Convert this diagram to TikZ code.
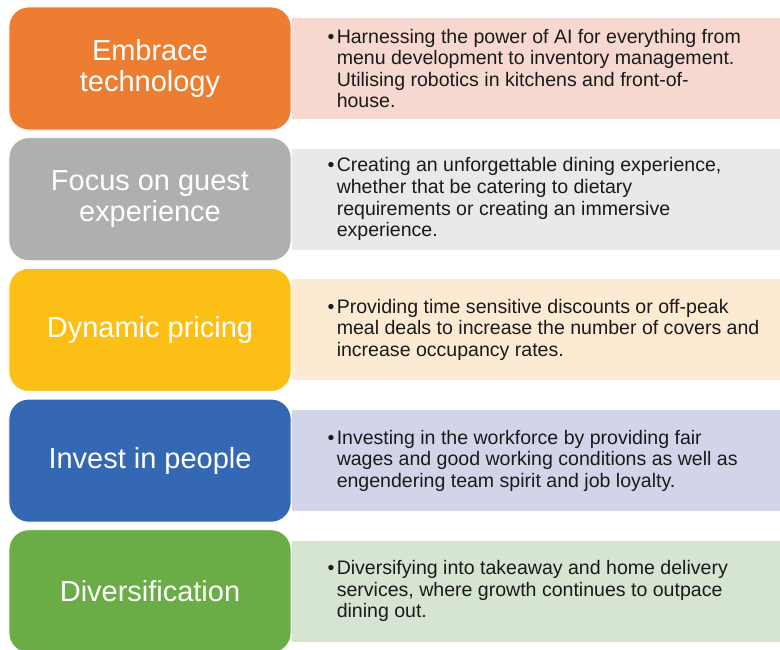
\documentclass[tikz,border=0pt]{standalone}
\usepackage{fontspec}
\setmainfont{Liberation Sans}
\usepackage{xcolor}
\usetikzlibrary{positioning}
\definecolor{techorange}{HTML}{ED7D31}
\definecolor{guestgray}{HTML}{AFAFAF}
\definecolor{priceyellow}{HTML}{FBBF16}
\definecolor{peopleblue}{HTML}{3468B4}
\definecolor{diversgreen}{HTML}{6AAC46}
\definecolor{techpale}{HTML}{F7D8D0}
\definecolor{guestpale}{HTML}{E8E9EA}
\definecolor{pricepale}{HTML}{FDEAD2}
\definecolor{peoplepale}{HTML}{D2D5E9}
\definecolor{diverspale}{HTML}{D6E4D2}
\definecolor{bodyink}{HTML}{1A1A1A}
\newcommand{\bul}{\llap{\textbullet\kern1.6pt}}
\tikzset{
  headbox/.style={draw=white,line width=0.6pt,rounded corners=14pt,
    minimum width=7.05cm,minimum height=3.075cm,inner sep=0pt,
    align=center,text=white,
    font=\fontsize{20.6}{22}\selectfont},
  band/.style={minimum width=12.225cm,minimum height=2.525cm,inner sep=0pt},
  bodytext/.style={align=left,inner sep=0pt,text=bodyink,
    font=\fontsize{13.9}{15.3}\selectfont},
}
\begin{document}
\begin{tikzpicture}[x=0.025cm,y=-0.025cm]
\useasboundingbox (0,0) rectangle (780,649);
% one row per strategy: coloured heading box, pale band with the bullet
\foreach \dark/\pale/\head/\body [count=\i from 0] in {
  techorange/techpale/{Embrace\\technology}/{\bul Harnessing the power of AI for everything from\\menu development to inventory management.\\Utilising robotics in kitchens and front-of-\\house.},
  guestgray/guestpale/{Focus on guest\\experience}/{\bul Creating an unforgettable dining experience,\\whether that be catering to dietary\\requirements or creating an immersive\\experience.},
  priceyellow/pricepale/{Dynamic pricing}/{\bul Providing time sensitive discounts or off-peak\\meal deals to increase the number of covers and\\increase occupancy rates.},
  peopleblue/peoplepale/{Invest in people}/{\bul Investing in the workforce by providing fair\\wages and good working conditions as well as\\engendering team spirit and job loyalty.},
  diversgreen/diverspale/{Diversification}/{\bul Diversifying into takeaway and home delivery\\services, where growth continues to outpace\\dining out.}}{
  \pgfmathsetmacro\ytop{7+\i*130.7}
  \node[headbox,fill=\dark] (head\i) at (150,\ytop+61.5) {\head};
  \node[band,fill=\pale,anchor=west,right=0pt of head\i] (band\i) {};
  \node[bodytext,anchor=west] (text\i) at ([xshift=1.125cm]band\i.west) {\body};
}
\end{tikzpicture}
\end{document}
